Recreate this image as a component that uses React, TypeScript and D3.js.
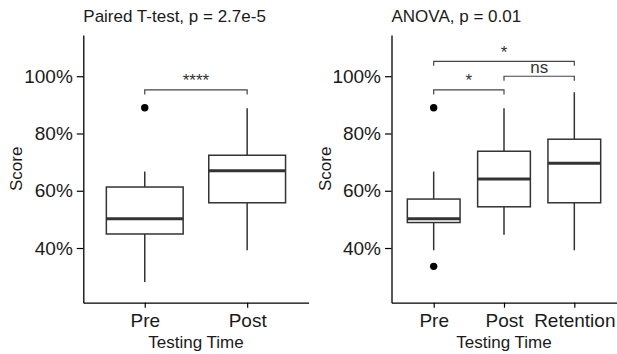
import React, { useEffect, useRef } from 'react';
import * as d3 from 'd3';

// Left panel: paired t-test
const leftCategories = ['Pre', 'Post'];
const leftLower = [0.281, 0.392];
const leftQ1 = [0.449, 0.558];
const leftMedian = [0.502, 0.67];
const leftQ3 = [0.613, 0.724];
const leftUpper = [0.667, 0.888];
const leftOutliers = [[0.89], []];
const leftComparisons = [{ from: 'Pre', to: 'Post', y: 0.952, label: '****' }];

// Right panel: ANOVA
const rightCategories = ['Pre', 'Post', 'Retention'];
const rightLower = [0.392, 0.446, 0.392];
const rightQ1 = [0.489, 0.544, 0.558];
const rightMedian = [0.502, 0.641, 0.696];
const rightQ3 = [0.571, 0.738, 0.78];
const rightUpper = [0.667, 0.888, 0.944];
const rightOutliers = [[0.89, 0.336], [], []];
const rightComparisons = [
  { from: 'Pre', to: 'Post', y: 0.952, label: '*' },
  { from: 'Post', to: 'Retention', y: 1.0, label: 'ns' },
  { from: 'Pre', to: 'Retention', y: 1.052, label: '*' }
];

const yTicks = [0.4, 0.6, 0.8, 1.0];
const yDomain = [0.209, 1.144];

const FONT = '"Liberation Sans", Arial, Helvetica, sans-serif';

interface Comparison {
  from: string;
  to: string;
  y: number;
  label: string;
}

interface PanelSpec {
  title: string;
  categories: string[];
  lower: number[];
  q1: number[];
  median: number[];
  q3: number[];
  upper: number[];
  outliers: number[][];
  comparisons: Comparison[];
  left: number;
  right: number;
}

const panels: PanelSpec[] = [
  {
    title: 'Paired T-test, p = 2.7e-5',
    categories: leftCategories,
    lower: leftLower,
    q1: leftQ1,
    median: leftMedian,
    q3: leftQ3,
    upper: leftUpper,
    outliers: leftOutliers,
    comparisons: leftComparisons,
    left: 83.3,
    right: 308.6
  },
  {
    title: 'ANOVA, p = 0.01',
    categories: rightCategories,
    lower: rightLower,
    q1: rightQ1,
    median: rightMedian,
    q3: rightQ3,
    upper: rightUpper,
    outliers: rightOutliers,
    comparisons: rightComparisons,
    left: 391.5,
    right: 616.5
  }
];

const App: React.FC = () => {
  const svgRef = useRef<SVGSVGElement>(null);

  useEffect(() => {
    if (!svgRef.current) return;
    const width = 617;
    const height = 354;
    const plotTop = 35;
    const plotBottom = 302.7;

    const svg = d3.select(svgRef.current);
    svg.selectAll('*').remove();
    svg.attr('width', width).attr('height', height);

    svg.append('rect').attr('width', width).attr('height', height).attr('fill', '#fff');

    const y = d3.scaleLinear().domain(yDomain).range([plotBottom, plotTop]);

    panels.forEach(p => {
      const x = d3.scalePoint<string>()
        .domain(p.categories)
        .range([p.left, p.right])
        .padding(0.6);
      const boxW = x.step() * 0.75;

      const g = svg.append('g').attr('font-family', FONT);

      // Title
      g.append('text')
        .attr('x', p.left)
        .attr('y', 21.5)
        .attr('font-size', 17)
        .attr('fill', '#1a1a1a')
        .text(p.title);

      // Y axis
      const yAxis = g.append('g')
        .attr('transform', `translate(${p.left},0)`)
        .call(
          d3.axisLeft(y)
            .tickValues(yTicks)
            .tickFormat(d3.format('.0%'))
            .tickSize(6.5)
            .tickSizeOuter(0)
            .tickPadding(4)
        )
        .attr('font-family', FONT)
        .attr('font-size', 19);
      yAxis.select('.domain').attr('stroke', '#000').attr('stroke-width', 1.3);
      yAxis.selectAll('.tick line').attr('stroke', '#000').attr('stroke-width', 1.2);
      yAxis.selectAll('.tick text').attr('fill', '#1a1a1a');

      // X axis
      const xAxis = g.append('g')
        .attr('transform', `translate(0,${plotBottom})`)
        .call(d3.axisBottom(x).tickSize(5).tickSizeOuter(0))
        .attr('font-family', FONT)
        .attr('font-size', 19);
      xAxis.select('.domain').attr('stroke', '#000').attr('stroke-width', 1.3);
      xAxis.selectAll('.tick line').attr('stroke', '#000').attr('stroke-width', 1.2);
      xAxis.selectAll('.tick text').attr('fill', '#1a1a1a').attr('y', 24).attr('dy', 0);

      // Axis titles
      g.append('text')
        .attr('x', (p.left + p.right) / 2)
        .attr('y', 348)
        .attr('text-anchor', 'middle')
        .attr('font-size', 17)
        .attr('fill', '#1a1a1a')
        .text('Testing Time');

      g.append('text')
        .attr('transform', `translate(${p.left - 61},${(plotTop + plotBottom) / 2}) rotate(-90)`)
        .attr('text-anchor', 'middle')
        .attr('font-size', 17)
        .attr('fill', '#1a1a1a')
        .text('Score');

      // Boxes
      p.categories.forEach((cat, i) => {
        const cx = x(cat) || 0;
        const bg = g.append('g');

        bg.append('line')
          .attr('x1', cx).attr('x2', cx)
          .attr('y1', y(p.upper[i])).attr('y2', y(p.q3[i]))
          .attr('stroke', '#333').attr('stroke-width', 1.5);
        bg.append('line')
          .attr('x1', cx).attr('x2', cx)
          .attr('y1', y(p.q1[i])).attr('y2', y(p.lower[i]))
          .attr('stroke', '#333').attr('stroke-width', 1.5);

        bg.append('rect')
          .attr('x', cx - boxW / 2)
          .attr('y', y(p.q3[i]))
          .attr('width', boxW)
          .attr('height', y(p.q1[i]) - y(p.q3[i]))
          .attr('fill', '#fff')
          .attr('stroke', '#333')
          .attr('stroke-width', 1.5);

        bg.append('line')
          .attr('x1', cx - boxW / 2).attr('x2', cx + boxW / 2)
          .attr('y1', y(p.median[i])).attr('y2', y(p.median[i]))
          .attr('stroke', '#333').attr('stroke-width', 3);

        p.outliers[i].forEach(v => {
          bg.append('circle')
            .attr('cx', cx)
            .attr('cy', y(v))
            .attr('r', 3.7)
            .attr('fill', '#000');
        });
      });

      // Significance brackets
      const tip = 4.5;
      p.comparisons.forEach(c => {
        const x1 = x(c.from) || 0;
        const x2 = x(c.to) || 0;
        const yy = y(c.y);
        g.append('path')
          .attr('d', `M${x1},${yy + tip}V${yy}H${x2}V${yy + tip}`)
          .attr('fill', 'none')
          .attr('stroke', '#444')
          .attr('stroke-width', 1.2);
        g.append('text')
          .attr('x', (x1 + x2) / 2)
          .attr('y', yy - 3.5)
          .attr('text-anchor', 'middle')
          .attr('font-size', 17)
          .attr('fill', '#333')
          .text(c.label);
      });
    });
  }, []);

  return (
    <svg
      ref={svgRef}
      style={{ position: 'absolute', left: 0, top: 0, display: 'block' }}
    />
  );
};

export default App;
